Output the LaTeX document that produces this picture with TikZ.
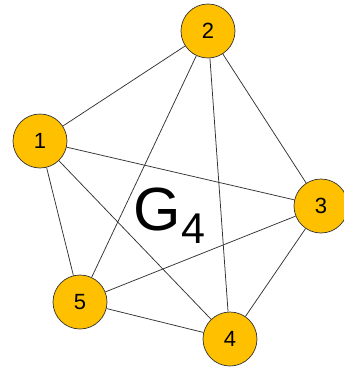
\documentclass[tikz,border=0pt]{standalone}
\usepackage{fontspec}
\setmainfont{Liberation Sans}
\usepackage{xcolor}
\definecolor{VertexGold}{HTML}{FFC000}
\definecolor{EdgeGray}{HTML}{333333}
\usetikzlibrary{positioning}

\begin{document}
\begin{tikzpicture}[x=1pt,y=-1pt,
  vertex/.style={circle,draw=black!80,line width=0.7pt,fill=VertexGold,
    minimum size=54pt,inner sep=0pt,font=\fontsize{22}{22}\selectfont},
  edge/.style={draw=EdgeGray,line width=0.75pt}]
\useasboundingbox (0,0) rectangle (344,368);
% vertices
\foreach \n/\x/\y in {1/40/141, 2/208/31, 3/321/206, 4/230/339, 5/80/302} {
  \node[vertex] (v\n) at (\x,\y) {\n};
}
% edges of K5
\foreach \a/\b in {1/2, 1/3, 1/4, 1/5, 2/3, 2/4, 2/5, 3/4, 3/5, 4/5} {
  \draw[edge] (v\a) -- (v\b);
}
% graph name
\node[inner sep=0pt,anchor=base west] (gname) at (133,230)
  {\fontsize{61}{61}\selectfont G\kern1pt\raisebox{-13pt}{\fontsize{43}{43}\selectfont 4}};
\end{tikzpicture}
\end{document}
